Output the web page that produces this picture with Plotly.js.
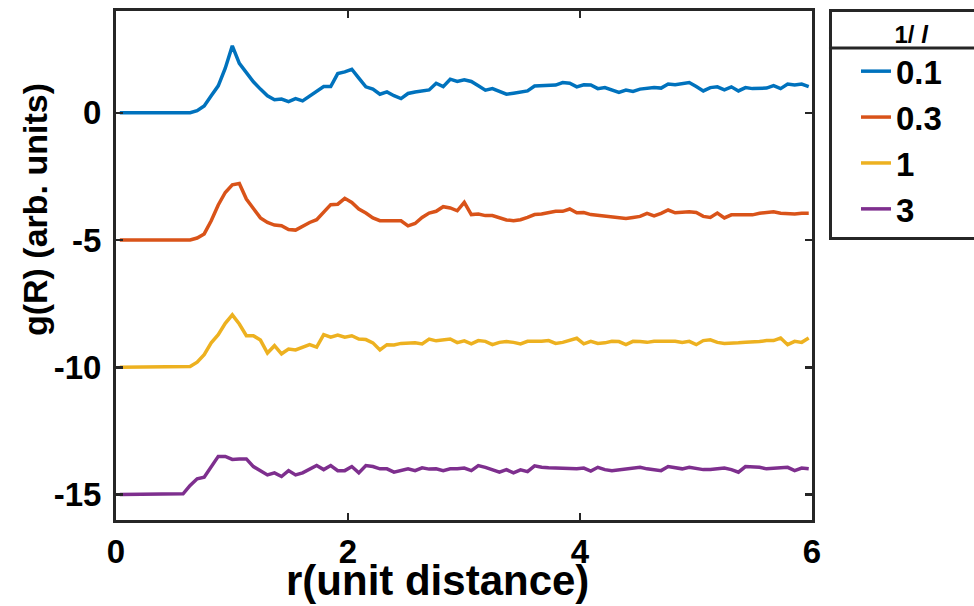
<!DOCTYPE html>
<html>
<head>
<meta charset="utf-8">
<script src="https://cdn.plot.ly/plotly-3.0.1.min.js"></script>
<style>html,body{margin:0;padding:0;background:#fff;}#chart{width:974px;height:606px;}</style>
</head>
<body>
<div id="chart"></div>
<script>
// Sampling grid of r (unit distance): uniform bins, first centre and step
const R_START = 0.033;
const R_STEP = 0.0606;
const N_POINTS = 99;
const r = Array.from({length: N_POINTS}, (_, k) => +(R_START + R_STEP * k).toFixed(4));

const seriesNames = ["0.1", "0.3", "1", "3"];
const seriesColors = ["#0072BD", "#D95319", "#EDB120", "#7E2F8E"];

const g_01 = [0,0,0,0,0,0,0,0,0,0,0,
  0.08,0.27,0.67,1.06,1.75,2.63,1.94,1.58,1.22,0.93,0.67,0.51,0.54,0.44,0.56,0.47,0.67,0.86,1.03,1.03,
  1.54,1.61,1.71,1.36,1.02,0.93,0.73,0.82,0.67,0.56,0.76,0.82,0.86,0.90,1.16,1.03,1.32,1.23,1.30,1.23,
  1.06,0.89,0.95,0.84,0.73,0.77,0.82,0.86,1.05,1.06,1.06,1.09,1.19,1.16,1.02,1.10,1.09,0.95,0.99,0.90,
  0.80,0.89,0.84,0.93,0.97,0.99,0.97,1.13,1.10,1.15,1.19,1.03,0.86,0.99,1.02,0.90,1.02,0.86,0.99,0.95,
  0.97,0.97,1.07,0.95,1.13,1.09,1.13,1.03];

const g_03 = [-5,-5,-5,-5,-5,-5,-5,-5,-5,-5,-5,
  -4.92,-4.76,-4.24,-3.62,-3.13,-2.83,-2.78,-3.39,-3.76,-4.13,-4.31,-4.41,-4.44,-4.59,-4.61,-4.46,-4.31,-4.20,-3.91,-3.61,
  -3.59,-3.36,-3.52,-3.78,-3.94,-4.13,-4.24,-4.24,-4.24,-4.24,-4.44,-4.35,-4.11,-3.94,-3.87,-3.69,-3.74,-3.85,-3.52,-4.00,
  -3.98,-4.04,-4.04,-4.13,-4.21,-4.24,-4.20,-4.11,-4.00,-3.98,-3.94,-3.87,-3.87,-3.78,-3.93,-3.92,-4.00,-4.03,-4.04,-4.07,
  -4.11,-4.15,-4.11,-4.07,-3.95,-4.05,-3.95,-3.82,-3.93,-3.92,-3.89,-3.92,-4.07,-4.11,-3.94,-4.13,-4.01,-4.01,-4.01,-4.01,
  -3.95,-3.92,-3.89,-3.95,-3.98,-3.98,-3.95,-3.95];

const g_1 = [-10,-10,-10,-10,-10,-10,-10,-10,-10,-10,-9.97,
  -9.80,-9.50,-9.04,-8.72,-8.27,-7.94,-8.30,-8.76,-8.76,-8.93,-9.44,-9.15,-9.47,-9.28,-9.32,-9.21,-9.11,-9.21,-8.72,-8.82,
  -8.73,-8.82,-8.76,-8.89,-8.91,-9.04,-9.32,-9.11,-9.12,-9.06,-9.04,-9.04,-9.08,-8.89,-8.96,-8.93,-8.89,-9.03,-8.96,-9.08,
  -8.95,-8.98,-9.11,-9.02,-8.99,-9.02,-9.08,-8.98,-8.99,-8.98,-8.95,-9.06,-9.02,-8.95,-8.86,-9.08,-8.98,-9.06,-9.04,-8.98,
  -8.99,-9.11,-8.98,-8.99,-9.02,-8.98,-8.98,-8.95,-8.98,-9.02,-8.98,-9.11,-8.95,-8.92,-9.02,-9.06,-9.06,-9.04,-9.02,-9.02,
  -8.99,-8.95,-8.95,-8.85,-9.11,-8.98,-9.02,-8.85];

const g_3 = [-15,-15,-15,-15,-15,-15,-15,-15,-15,-14.97,
  -14.64,-14.38,-14.32,-13.93,-13.50,-13.50,-13.62,-13.60,-13.60,-13.90,-14.06,-14.23,-14.15,-14.29,-14.06,-14.23,-14.15,-13.99,-13.86,-14.02,
  -13.86,-14.06,-14.06,-13.90,-14.15,-13.86,-13.90,-13.99,-13.99,-14.12,-14.06,-13.99,-14.06,-13.95,-14.00,-13.99,-14.06,-13.99,-13.99,-13.96,
  -14.06,-13.86,-13.93,-14.03,-14.12,-14.02,-14.15,-14.03,-14.10,-13.87,-13.93,-13.95,-13.96,-13.95,-13.96,-13.99,-13.96,-14.08,-13.93,-14.02,
  -14.06,-14.03,-14.02,-13.96,-13.93,-13.99,-14.03,-14.06,-13.90,-13.93,-13.99,-13.93,-13.99,-14.02,-14.02,-13.99,-13.96,-14.02,-14.12,-13.90,
  -13.90,-13.93,-13.99,-13.96,-13.95,-13.93,-14.06,-13.96,-13.99];

const xTickVals = [0, 2, 4, 6];
const yTickVals = [-15, -10, -5, 0];
const xTitle = "r(unit distance)";
const yTitle = "g(R) (arb. units)";
const legendTitle = "1/ <i>l</i>";

const allSeries = [g_01, g_03, g_1, g_3];
const traces = allSeries.map((ys, i) => ({
  x: r, y: ys, type: "scatter", mode: "lines", name: seriesNames[i],
  line: {color: seriesColors[i], width: 3.5}
}));

const FONT = "Liberation Sans, Arial, sans-serif";
const AX = "#262626";
const axisCommon = {
  showgrid: false, zeroline: false, showline: true, linecolor: AX, linewidth: 3,
  mirror: "ticks", ticks: "inside", ticklen: 7, tickwidth: 2.5, tickcolor: AX,
  tickfont: {family: FONT, size: 33, color: "#000", weight: "bold"},
  fixedrange: true
};

const NB = "\u00a0";

const layout = {
  width: 974, height: 606,
  margin: {l: 116, r: 162, t: 11, b: 86, autoexpand: false},
  paper_bgcolor: "#fff", plot_bgcolor: "#fff",
  showlegend: true,
  xaxis: Object.assign({}, axisCommon, {
    range: [0, 6], tickvals: xTickVals, ticktext: xTickVals.map(String)
  }),
  yaxis: Object.assign({}, axisCommon, {
    range: [-16, 4], tickvals: yTickVals, ticktext: yTickVals.map(String),
    ticklabelstandoff: 5
  }),
  annotations: [{
    text: yTitle, xref: "paper", yref: "paper", x: -0.117, y: 0.61,
    xanchor: "center", yanchor: "middle", textangle: -90, showarrow: false,
    font: {family: FONT, size: 34, color: "#000", weight: "bold"}
  }, {
    text: xTitle, xref: "paper", yref: "paper", x: 0.4626, y: -0.1198,
    xanchor: "center", yanchor: "middle", showarrow: false,
    font: {family: FONT, size: 42, color: "#000", weight: "bold"}
  }],
  legend: {
    x: 1.0244, y: 1.0039, xanchor: "left", yanchor: "top",
    bgcolor: "rgba(0,0,0,0)", bordercolor: AX, borderwidth: 3,
    font: {family: FONT, size: 33, color: "#000", weight: "bold"},
    title: {text: NB.repeat(9) + legendTitle + NB.repeat(13), side: "top center", font: {family: FONT, size: 24, color: "#000", weight: "bold"}},
    itemwidth: 30, indentation: 24
  },
  shapes: [{
    type: "line", xref: "paper", yref: "paper", x0: 1.0244, x1: 1.4, y0: 0.9273, y1: 0.9273,
    line: {color: AX, width: 3}
  }]
};

Plotly.newPlot("chart", traces, layout, {staticPlot: true, displayModeBar: false});
</script>
</body>
</html>
